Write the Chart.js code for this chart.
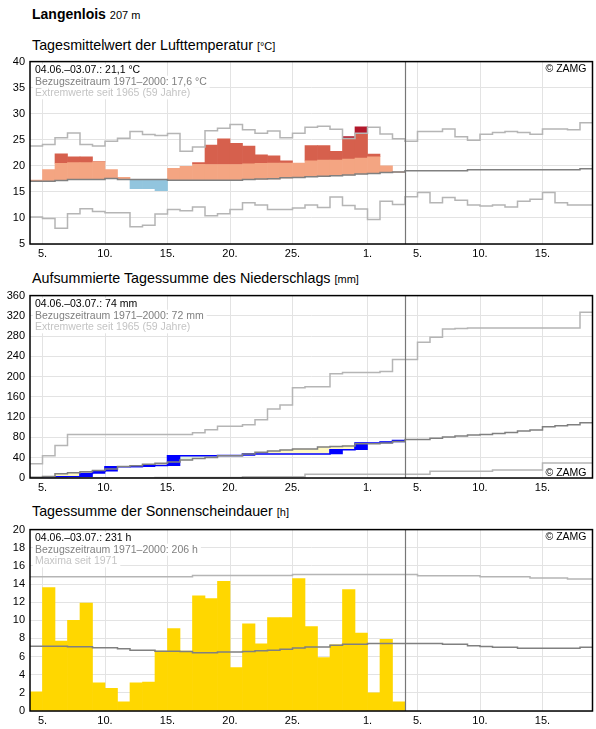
<!DOCTYPE html>
<html>
<head>
<meta charset="utf-8">
<script src="https://cdn.jsdelivr.net/npm/chart.js@4.4.0/dist/chart.umd.min.js"></script>
<style>
  body { margin: 0; background: #fff; overflow: hidden; font-family: "Liberation Sans", Arial, sans-serif; }
  .t { position: absolute; left: 32px; white-space: nowrap; color: #000; }
  .t small { font-size: 11px; }
  canvas { position: absolute; left: 0; }
</style>
</head>
<body>
<div class="t" style="top:6px;font-size:14px;line-height:16px;font-weight:bold">Langenlois <small style="font-weight:normal">207 m</small></div>
<div class="t" style="top:36.5px;font-size:14.3px;line-height:17px">Tagesmittelwert der Lufttemperatur <small>[°C]</small></div>
<div class="t" style="top:270px;font-size:14.3px;line-height:17px">Aufsummierte Tagessumme des Niederschlags <small>[mm]</small></div>
<div class="t" style="top:503px;font-size:14.3px;line-height:17px">Tagessumme der Sonnenscheindauer <small>[h]</small></div>

<canvas id="temp" width="596" height="212" style="top:50px"></canvas>
<canvas id="rain" width="596" height="212" style="top:284px"></canvas>
<canvas id="sun" width="596" height="211" style="top:518px"></canvas>

<script>
// x axis: one unit per day, 0 = 04.06., 45 = 19.07.
const totalDays = 45;
const tickDays = [1, 6, 11, 16, 21, 27, 31, 36, 41];
const tickLabels = ['5.', '10.', '15.', '20.', '25.', '1.', '5.', '10.', '15.'];

// Temperature (°C), observed 04.06.–03.07.
const tempObs = [17.25, 19.3, 22.3, 21.75, 21.75, 20.8, 19.3, 17.8, 15.6, 15.6, 15.25, 19.5, 19.9, 20.6, 24.0,
  25.2, 24.3, 23.8, 22.1, 21.9, 20.95, 20.55, 23.9, 23.9, 22.8, 25.6, 27.5, 22.25, 20.0, 18.85];
// upper edge of the light band
const tempUpper = [20.2, 20.3, 20.5, 20.6, 20.6, 20.75, 20.8, 20.7, 20.6, 20.5, 20.5, 20.4, 20.35, 20.3, 20.25,
  20.25, 20.25, 20.4, 20.5, 20.55, 20.55, 20.6, 20.95, 21.1, 21.1, 21.3, 21.5, 21.75, 21.85, 22.0];
const tempNormal = [17.05, 17.05, 17.2, 17.4, 17.4, 17.4, 17.55, 17.4, 17.4, 17.4, 17.4, 17.25, 17.25, 17.25, 17.25,
  17.25, 17.25, 17.4, 17.45, 17.5, 17.7, 17.75, 17.9, 18.0, 18.1, 18.25, 18.45, 18.55, 18.7, 18.8,
  19.05, 19.05, 19.05, 19.05, 19.05, 19.25, 19.25, 19.25, 19.25, 19.25, 19.25, 19.25, 19.25, 19.25, 19.45];
const tempMax = [23.8, 24.1, 25.4, 26.3, 24.1, 23.8, 24.7, 25.3, 26.6, 26.0, 25.8, 26.2, 22.8, 23.6, 26.75,
  27.2, 27.95, 26.9, 26.25, 26.7, 25.4, 26.25, 27.4, 27.6, 27.0, 25.25, 26.25, 27.4, 26.1, 25.2,
  24.7, 26.6, 26.6, 27.05, 25.6, 24.9, 26.05, 26.4, 26.6, 26.4, 26.05, 27.05, 27.05, 26.9, 28.25];
const tempMin = [10.2, 9.9, 8.0, 10.8, 11.75, 11.25, 11.0, 11.0, 8.3, 8.6, 10.75, 11.6, 11.4, 12.1, 10.4,
  10.8, 11.6, 12.9, 12.5, 11.6, 11.6, 11.9, 12.5, 12.0, 14.0, 12.4, 11.7, 9.7, 13.2, 12.6,
  14.05, 14.9, 12.9, 13.9, 13.4, 12.5, 12.3, 12.5, 12.1, 13.2, 13.6, 14.9, 12.9, 12.5, 12.5];

// Precipitation, accumulated (mm)
const rainCum = [0, 0, 2.5, 2.7, 9, 13.5, 22, 22, 22.6, 24.5, 24.5, 44, 44, 44, 44,
  44.4, 44.4, 47.5, 47.5, 47.5, 47.5, 47.5, 47.5, 47.5, 55.8, 55.8, 69, 69, 71, 74];
const rainNormal = [1.3, 3.2, 8.4, 10.3, 12.3, 14.8, 18, 22.6, 24, 27, 29, 31.6, 35.5, 38.7, 40.6,
  43.8, 43.8, 47.6, 50.8, 53.3, 55.2, 57, 57, 61, 62, 63.4, 67.8, 67.8, 69, 72,
  75.9, 76, 78.5, 81, 83, 85, 86, 88, 90, 92.7, 94.7, 101, 103, 105, 109];
const rainMax = [28, 44, 64, 86, 86, 86, 86, 86, 86, 86, 86, 86, 86, 89.5, 95,
  102, 102, 105, 115, 136, 144, 178, 180, 180, 206, 208, 208, 208, 210, 234,
  234, 268, 278, 294, 295, 296, 296, 296, 296, 296, 296, 296, 296, 296, 327];
const rainMin = [0, 0, 0, 0, 0, 0, 0, 0, 0, 0, 1, 1, 1, 1, 1,
  1, 1, 2.5, 2.5, 2.5, 2.5, 2.5, 7.5, 7.5, 7.5, 7.5, 7.5, 7.5, 7.5, 7.5,
  7.5, 7.5, 13.5, 13.5, 13.5, 13.5, 13.5, 16, 16, 16, 16, 29.5, 29.5, 29.5, 29.5];

// Sunshine duration (h)
const sunObs = [2.1, 13.6, 7.7, 10.0, 11.9, 3.1, 2.5, 1.0, 3.1, 3.2, 6.6, 9.1, 6.6, 12.7, 12.4,
  14.3, 4.8, 9.6, 7.4, 10.3, 10.3, 14.6, 9.3, 5.9, 7.3, 13.4, 8.6, 2.0, 7.9, 1.0];
const sunNormal = [7.15, 7.15, 7.15, 7.08, 7.08, 6.97, 6.97, 6.86, 6.7, 6.7, 6.6, 6.6, 6.57, 6.43, 6.43,
  6.5, 6.5, 6.57, 6.64, 6.7, 6.82, 6.95, 7.07, 7.07, 7.25, 7.36, 7.36, 7.43, 7.43, 7.43,
  7.43, 7.43, 7.43, 7.36, 7.36, 7.2, 7.1, 7.04, 7.04, 6.93, 6.93, 6.93, 6.93, 6.93, 7.04];
const sunMax = [14.8, 14.8, 14.8, 14.8, 14.8, 14.8, 14.8, 14.8, 14.8, 14.8, 14.8, 14.8, 14.8, 14.95, 14.95,
  14.95, 14.95, 14.95, 14.95, 14.95, 14.95, 15.05, 15.05, 15.05, 15.05, 15.05, 15.05, 15.05, 15.05, 15.05,
  15.05, 14.9, 14.9, 14.9, 14.9, 14.9, 14.8, 14.8, 14.8, 14.8, 14.65, 14.65, 14.65, 14.55, 14.55];

const FONT = '"Liberation Sans", Arial, sans-serif';
Chart.defaults.font.family = FONT;
Chart.defaults.color = '#000';

const GRID = '#e3e3e3';
const NORMAL = '#808080';
const EXTREME = '#b5b5b5';

// day values -> flat steps, one segment per day
function steps(vals) {
  const pts = [];
  vals.forEach((v, i) => { pts.push({x: i, y: v}, {x: i + 1, y: v}); });
  return pts;
}

function stepLine(vals, color) {
  return { type: 'line', data: steps(vals), borderColor: color, borderWidth: 1.5,
    pointRadius: 0, fill: false, tension: 0, order: 0 };
}

function barSet(data, color) {
  return { type: 'bar', data: data, backgroundColor: color, borderWidth: 0,
    grouped: false, barPercentage: 1, categoryPercentage: 1, order: 2 };
}

// texts, frame and end-of-period line
function decorations(lines, zamgAtBottom) {
  return {
    id: 'decorations',
    beforeDatasetsDraw(chart) {
      const ctx = chart.ctx, a = chart.chartArea;
      ctx.save();
      ctx.font = '10.5px ' + FONT;
      ctx.textBaseline = 'alphabetic';
      lines.forEach((l, i) => {
        const y = a.top + 11.5 + i * 11.6;
        const w = ctx.measureText(l.text).width;
        ctx.fillStyle = '#fff';
        ctx.fillRect(a.left + 3, y - 9, w + 5, 12);
        ctx.fillStyle = l.color;
        ctx.fillText(l.text, a.left + 5, y);
      });
      const zy = zamgAtBottom ? a.bottom - 2.5 : a.top + 10.5;
      const zw = ctx.measureText('© ZAMG').width;
      ctx.fillStyle = '#fff';
      ctx.fillRect(a.right - 8 - zw, zy - 9, zw + 5, 12);
      ctx.fillStyle = '#000';
      ctx.textAlign = 'right';
      ctx.fillText('© ZAMG', a.right - 6, zy);
      ctx.restore();
    },
    afterDatasetsDraw(chart) {
      const ctx = chart.ctx, a = chart.chartArea;
      const x = Math.round(chart.scales.x.getPixelForValue(tempObs.length)) + 0.5;
      ctx.save();
      ctx.strokeStyle = '#777';
      ctx.lineWidth = 1.2;
      ctx.beginPath();
      ctx.moveTo(x, a.top);
      ctx.lineTo(x, a.bottom);
      ctx.stroke();
      ctx.restore();
    },
    afterDraw(chart) {
      const ctx = chart.ctx, a = chart.chartArea;
      ctx.save();
      ctx.strokeStyle = '#000';
      ctx.lineWidth = 1.5;
      ctx.strokeRect(a.left, a.top, a.right - a.left, a.bottom - a.top);
      ctx.restore();
    }
  };
}

function makeChart(id, yMin, yMax, yStep, xHeight, datasets, lines, zamgAtBottom) {
  return new Chart(document.getElementById(id), {
    type: 'line',
    data: { datasets: datasets },
    options: {
      responsive: false,
      animation: false,
      devicePixelRatio: 1,
      layout: { padding: { top: 8, right: 3.5, left: 0, bottom: 0 } },
      plugins: { legend: { display: false }, tooltip: { enabled: false } },
      scales: {
        x: {
          type: 'linear', min: 0, max: totalDays, offset: false,
          grid: { color: GRID, lineWidth: 1, drawTicks: false, offset: false },
          border: { display: false },
          afterBuildTicks: s => { s.ticks = tickDays.map(v => ({ value: v })); },
          afterFit: s => { s.height = xHeight; },
          ticks: { autoSkip: false, maxRotation: 0, padding: 3, font: { size: 11 },
            callback: (v, i) => tickLabels[i] }
        },
        y: {
          type: 'linear', min: yMin, max: yMax,
          grid: { color: GRID, lineWidth: 1, drawTicks: false },
          border: { display: false },
          afterFit: s => { s.width = 30; },
          ticks: { stepSize: yStep, padding: 5, font: { size: 11 } }
        }
      }
    },
    plugins: [decorations(lines, zamgAtBottom)]
  });
}

// ---- temperature ----
const tLight = [], tRed = [], tDark = [], tBlue = [];
tempObs.forEach((v, i) => {
  const n = tempNormal[i], u = tempUpper[i], mx = tempMax[i], x = i + 0.5;
  if (v >= n) {
    tLight.push({ x, y: [n, Math.min(v, u)] });
    if (v > u) tRed.push({ x, y: [u, Math.min(v, mx)] });
    if (v > mx) tDark.push({ x, y: [mx, v] });
  } else {
    tBlue.push({ x, y: [v, n] });
  }
});

makeChart('temp', 5, 40, 5, 18, [
  stepLine(tempNormal, NORMAL),
  stepLine(tempMax, EXTREME),
  stepLine(tempMin, EXTREME),
  barSet(tLight, '#f4a582'),
  barSet(tRed, '#d6604d'),
  barSet(tDark, '#b2182b'),
  barSet(tBlue, '#92c5de')
], [
  { text: '04.06.–03.07.: 21,1 °C', color: '#000' },
  { text: 'Bezugszeitraum 1971–2000: 17,6 °C', color: '#7f7f7f' },
  { text: 'Extremwerte seit 1965 (59 Jahre)', color: '#c4c4c4' }
], false);

// ---- precipitation ----
const rYellow = [], rGreen = [], rBlue = [];
rainCum.forEach((v, i) => {
  const n = rainNormal[i], x = i + 0.5;
  if (v < n) rYellow.push({ x, y: [v, n] });
  else if (v > n) rGreen.push({ x, y: [n, v] });
  const prev = i ? rainCum[i - 1] : 0;
  if (v > prev) rBlue.push({ x, y: [prev, v] });
});
const rainLine = stepLine(rainCum, '#0000ff');
rainLine.order = 1;

makeChart('rain', 0, 360, 40, 18, [
  stepLine(rainNormal, NORMAL),
  stepLine(rainMax, EXTREME),
  stepLine(rainMin, EXTREME),
  rainLine,
  barSet(rYellow, '#fff8c2'),
  barSet(rGreen, '#e2f2dc'),
  Object.assign(barSet(rBlue, '#0000ff'), { order: 1 })
], [
  { text: '04.06.–03.07.: 74 mm', color: '#000' },
  { text: 'Bezugszeitraum 1971–2000: 72 mm', color: '#7f7f7f' },
  { text: 'Extremwerte seit 1965 (59 Jahre)', color: '#c4c4c4' }
], true);

// ---- sunshine ----
makeChart('sun', 0, 20, 2, 18, [
  stepLine(sunNormal, NORMAL),
  stepLine(sunMax, EXTREME),
  barSet(sunObs.map((v, i) => ({ x: i + 0.5, y: v })), '#ffd700')
], [
  { text: '04.06.–03.07.: 231 h', color: '#000' },
  { text: 'Bezugszeitraum 1971–2000: 206 h', color: '#7f7f7f' },
  { text: 'Maxima seit 1971', color: '#c4c4c4' }
], false);
</script>
</body>
</html>
